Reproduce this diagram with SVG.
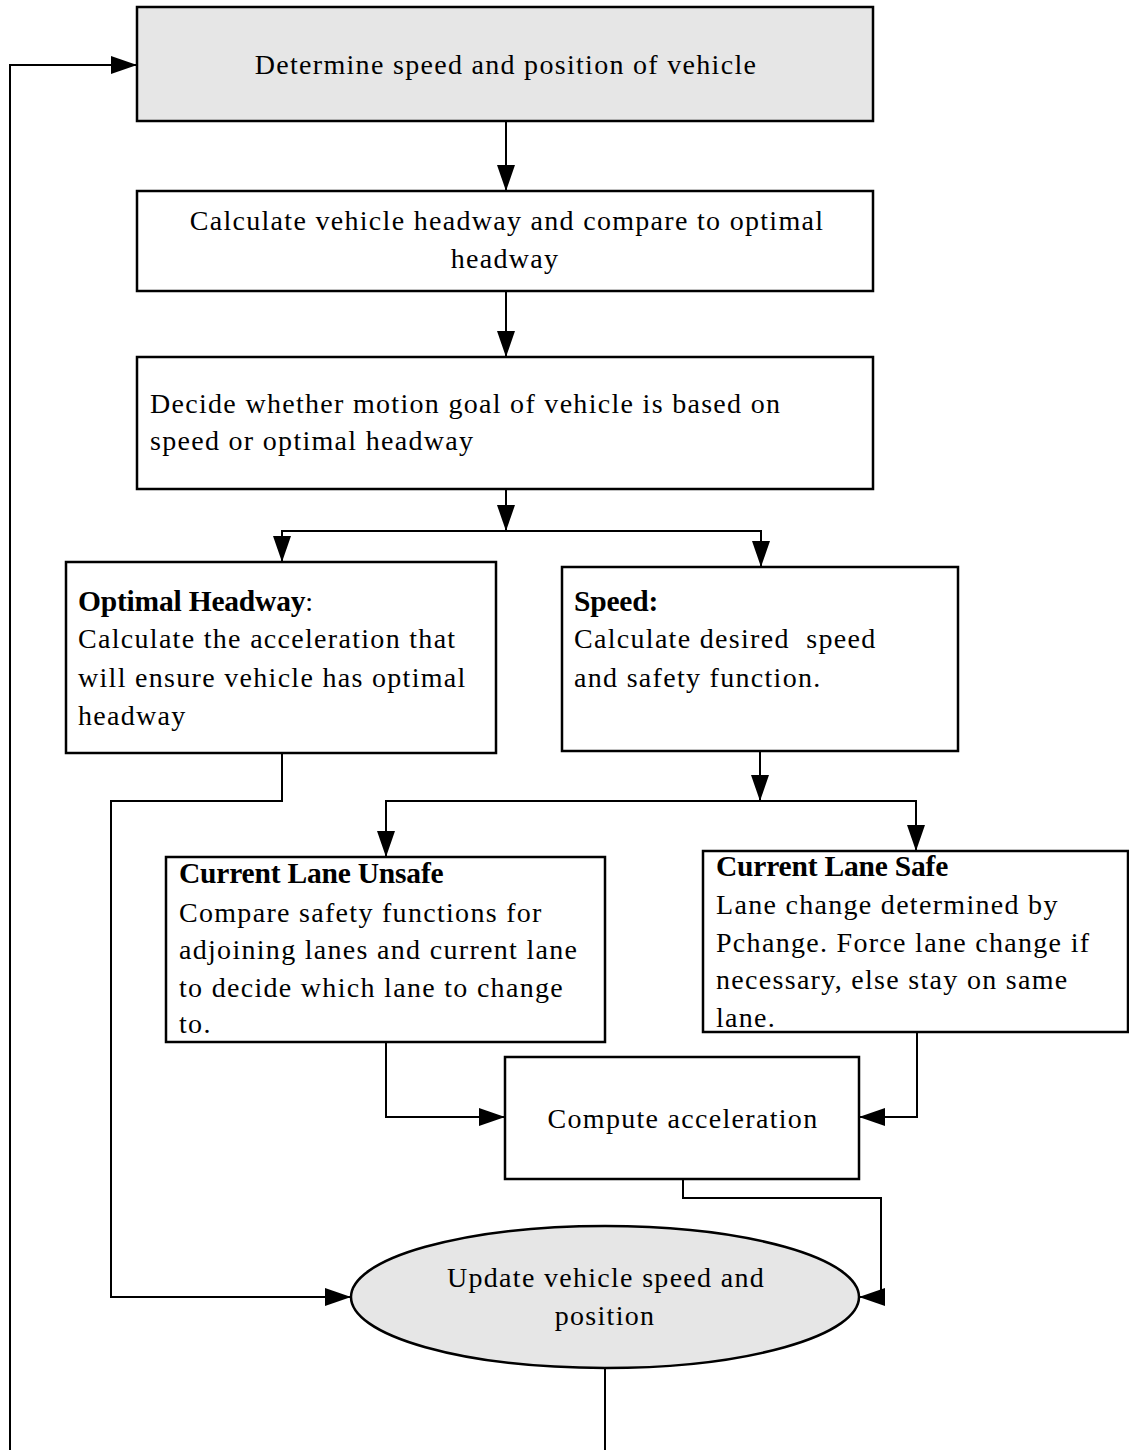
<svg xmlns="http://www.w3.org/2000/svg" width="1129" height="1450" viewBox="0 0 1129 1450">
<style>
.box{fill:#ffffff;stroke:#000;stroke-width:2.5}
.gray{fill:#e6e6e6}
.t{font-family:"Liberation Serif","Times New Roman",serif;font-size:28px;letter-spacing:1.3px;fill:#000}
.c{text-anchor:middle}
.b{font-weight:bold;font-size:29.5px;letter-spacing:-0.2px}
.conn{fill:none;stroke:#000;stroke-width:2}
</style>
<defs>
<marker id="arr" markerUnits="userSpaceOnUse" markerWidth="26" markerHeight="18" refX="26" refY="9" orient="auto">
<path d="M0,0 L26,9 L0,18 z" fill="#000"/>
</marker>
</defs>
<rect width="1129" height="1450" fill="#fff"/>
<g id="connectors">
<path class="conn" d="M10,1450 V65 H137" marker-end="url(#arr)"/>
<path class="conn" d="M605,1368 V1450"/>
<path class="conn" d="M506,121 V191" marker-end="url(#arr)"/>
<path class="conn" d="M506,291 V357" marker-end="url(#arr)"/>
<path class="conn" d="M506,489 V531" marker-end="url(#arr)"/>
<path class="conn" d="M506,531 H282 V562" marker-end="url(#arr)"/>
<path class="conn" d="M506,531 H761 V567" marker-end="url(#arr)"/>
<path class="conn" d="M760,751 V801" marker-end="url(#arr)"/>
<path class="conn" d="M760,801 H386 V857" marker-end="url(#arr)"/>
<path class="conn" d="M760,801 H916 V851" marker-end="url(#arr)"/>
<path class="conn" d="M282,753 V801 H111 V1297 H351" marker-end="url(#arr)"/>
<path class="conn" d="M386,1042 V1117 H505" marker-end="url(#arr)"/>
<path class="conn" d="M917,1032 V1117 H859" marker-end="url(#arr)"/>
<path class="conn" d="M683,1179 V1198 H881 V1297 H859" marker-end="url(#arr)"/>
</g>
<g id="determine">
<rect class="box gray" x="137" y="7" width="736" height="114"/>
<text class="t c" x="506" y="74">Determine speed and position of vehicle</text>
</g>
<g id="headway">
<rect class="box" x="137" y="191" width="736" height="100"/>
<text class="t c" x="507" y="230">Calculate vehicle headway and compare to optimal</text>
<text class="t c" x="505" y="268">headway</text>
</g>
<g id="decide">
<rect class="box" x="137" y="357" width="736" height="132"/>
<text class="t" x="150" y="413">Decide whether motion goal of vehicle is based on</text>
<text class="t" x="150" y="450">speed or optimal headway</text>
</g>
<g id="optimal">
<rect class="box" x="66" y="562" width="430" height="191"/>
<text class="t" x="78" y="611"><tspan class="b">Optimal Headway</tspan>:</text>
<text class="t" x="78" y="648">Calculate the acceleration that</text>
<text class="t" x="78" y="687">will ensure vehicle has optimal</text>
<text class="t" x="78" y="725">headway</text>
</g>
<g id="speed">
<rect class="box" x="562" y="567" width="396" height="184"/>
<text class="t b" x="574" y="611">Speed:</text>
<text class="t" x="574" y="648" xml:space="preserve">Calculate desired  speed</text>
<text class="t" x="574" y="687">and safety function.</text>
</g>
<g id="unsafe">
<rect class="box" x="166" y="857" width="439" height="185"/>
<text class="t b" x="179" y="883">Current Lane Unsafe</text>
<text class="t" x="179" y="922">Compare safety functions for</text>
<text class="t" x="179" y="959">adjoining lanes and current lane</text>
<text class="t" x="179" y="997">to decide which lane to change</text>
<text class="t" x="179" y="1033">to.</text>
</g>
<g id="safe">
<rect class="box" x="703" y="851" width="425" height="181"/>
<text class="t b" x="716" y="876">Current Lane Safe</text>
<text class="t" x="716" y="914">Lane change determined by</text>
<text class="t" x="716" y="952">Pchange. Force lane change if</text>
<text class="t" x="716" y="989">necessary, else stay on same</text>
<text class="t" x="716" y="1027">lane.</text>
</g>
<g id="compute">
<rect class="box" x="505" y="1057" width="354" height="122"/>
<text class="t c" x="683" y="1128">Compute acceleration</text>
</g>
<g id="update">
<ellipse class="box gray" cx="605" cy="1297" rx="254" ry="71"/>
<text class="t c" x="606" y="1287">Update vehicle speed and</text>
<text class="t c" x="605" y="1325">position</text>
</g>
</svg>
